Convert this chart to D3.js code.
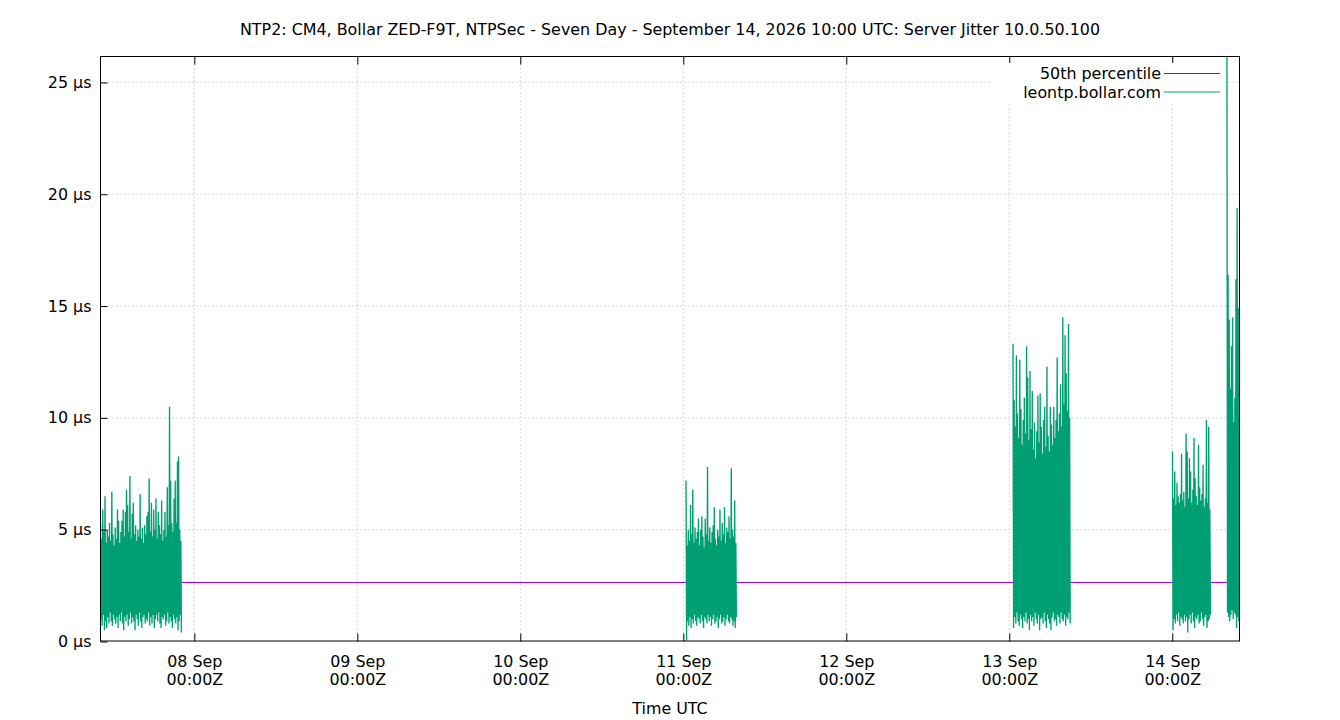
<!DOCTYPE html>
<html>
<head>
<meta charset="utf-8">
<script src="https://cdn.jsdelivr.net/npm/d3@7"></script>
<style>
    body { margin: 0; background: #fff; }
    svg { display: block; font-family: "DejaVu Sans", sans-serif; font-size: 15.9px; }
    .grid line { stroke: #b4b4b4; stroke-width: 1; stroke-dasharray: 1,3; }
</style>
</head>
<body>
<svg id="chart" width="1340" height="720"></svg>
<script>
var titleText = "NTP2: CM4, Bollar ZED-F9T, NTPSec - Seven Day - September 14, 2026 10:00 UTC: Server Jitter 10.0.50.100",
    xLabel = "Time UTC",
    legendLabels = ["50th percentile", "leontp.bollar.com"],
    yTickValues = [0, 5, 10, 15, 20, 25],
    yMax = 26.16,
    timeStart = "2026-09-07T10:11Z",
    timeEnd = "2026-09-14T09:54Z",
    medianValue = 2.64,
    stepMinutes = 10;

// jitter in microseconds, one high / low pair per 10 minute slot
var seg1Start = "2026-09-07T10:11Z",
    seg1Hi = [5.3, 4.6, 5.9, 4.9, 6.5, 4.4, 5.0, 4.7, 5.3, 4.5,
        6.7, 4.8, 4.3, 5.1, 4.6, 5.9, 5.4, 4.4, 4.9, 5.4,
        5.9, 4.7, 5.8, 6.8, 6.1, 4.9, 7.4, 4.6, 5.7, 6.2,
        4.8, 5.2, 4.5, 5.0, 4.7, 6.6, 4.6, 5.1, 4.4, 5.2,
        4.8, 5.6, 5.8, 7.3, 4.9, 6.2, 4.7, 5.9, 5.0, 6.4,
        4.6, 5.8, 5.2, 4.8, 6.3, 4.5, 5.0, 5.8, 4.7, 6.9,
        5.2, 10.5, 7.2, 5.3, 4.9, 6.4, 7.2, 5.3, 8.05, 8.27,
        5.0, 4.5],
    seg1Lo = [1.0, 0.7, 1.2, 0.5, 0.9, 0.6, 1.1, 0.8, 1.3, 0.9,
        0.7, 1.2, 1.0, 0.8, 1.1, 0.6, 1.2, 0.9, 1.3, 0.8,
        0.5, 1.1, 0.9, 1.2, 0.7, 1.0, 1.3, 0.8, 1.1, 0.9,
        0.5, 1.2, 1.0, 0.7, 1.3, 0.9, 0.6, 1.1, 1.2, 0.8,
        1.0, 0.9, 1.3, 0.7, 1.1, 0.8, 1.2, 0.6, 1.0, 1.2,
        0.9, 1.3, 0.8, 0.6, 1.1, 1.0, 1.2, 0.7, 0.9, 1.3,
        0.8, 1.1, 0.9, 0.6, 1.2, 1.0, 0.8, 1.1, 0.5, 0.9,
        1.2, 0.4];

var seg2Start = "2026-09-11T00:24Z",
    seg2Hi = [7.2, 4.3, 5.0, 4.5, 6.1, 4.8, 6.8, 4.4, 5.1, 4.6,
        4.9, 5.5, 4.3, 5.0, 5.6, 4.7, 4.2, 5.5, 4.8, 7.8,
        4.5, 5.1, 4.4, 4.9, 5.2, 6.0, 4.6, 4.3, 5.0, 4.7,
        5.9, 4.5, 5.3, 4.8, 6.0, 4.4, 5.1, 4.9, 5.6, 4.6,
        7.75, 5.0, 4.7, 6.3, 4.4],
    seg2Lo = [0.05, 0.9, 0.7, 1.1, 0.6, 1.0, 0.8, 1.2, 0.9, 0.7,
        1.1, 1.0, 0.8, 1.2, 0.9, 0.6, 1.1, 1.0, 0.8, 1.2,
        0.9, 1.1, 0.7, 1.0, 1.2, 0.8, 0.9, 1.1, 0.6, 1.0,
        1.2, 0.8, 0.9, 1.1, 0.7, 1.0, 1.2, 0.9, 0.8, 1.1,
        1.0, 0.7, 0.9, 0.6, 1.1];

var seg3Start = "2026-09-13T00:33Z",
    seg3Hi = [13.3, 10.8, 9.6, 12.8, 10.2, 9.1, 12.6, 10.4, 8.8, 9.9,
        10.9, 9.3, 13.2, 11.8, 9.0, 12.1, 9.5, 11.2, 8.6, 9.8,
        8.2, 9.4, 11.0, 8.9, 11.1, 9.6, 8.4, 9.9, 10.5, 8.7,
        12.3, 9.2, 8.5, 10.5, 9.7, 8.8, 10.5, 9.1, 9.9, 12.7,
        9.4, 10.2, 11.5, 9.6, 14.5, 10.6, 13.7, 12.0, 10.3, 14.2,
        10.0],
    seg3Lo = [0.6, 1.1, 0.8, 1.3, 0.9, 0.7, 1.2, 1.0, 0.6, 1.1,
        0.9, 1.3, 0.8, 1.0, 0.5, 1.2, 0.9, 1.1, 0.7, 1.3,
        1.0, 0.8, 1.2, 0.5, 1.0, 1.1, 0.8, 1.3, 0.9, 0.6,
        1.2, 1.0, 0.8, 0.5, 1.1, 1.3, 0.9, 1.0, 0.7, 1.2,
        1.1, 0.8, 1.3, 1.0, 0.9, 1.2, 0.7, 1.1, 1.0, 1.3,
        0.8];

var seg4Start = "2026-09-14T00:02Z",
    seg4Hi = [8.5, 6.4, 7.6, 6.1, 7.1, 6.5, 6.2, 6.6, 8.4, 6.3,
        6.7, 6.0, 9.3, 8.5, 6.4, 8.2, 7.6, 6.2, 6.8, 9.1,
        7.3, 6.5, 6.1, 8.8, 6.9, 6.3, 6.6, 7.9, 6.0, 6.4,
        9.9, 6.2, 9.6, 5.9],
    seg4Lo = [0.5, 1.0, 0.8, 1.2, 0.9, 1.3, 0.7, 1.1, 1.0, 0.8,
        1.2, 0.9, 1.1, 0.4, 1.0, 1.2, 0.8, 1.3, 0.9, 0.6,
        1.1, 1.0, 1.2, 0.8, 0.9, 1.3, 1.0, 0.7, 1.1, 1.2,
        0.6, 0.9, 1.0, 1.2];

var seg5Start = "2026-09-14T08:03Z",
    seg5Hi = [26.16, 16.4, 14.4, 11.3, 13.2, 14.5, 9.8, 10.9, 16.2, 19.4, 14.9, 12.5],
    seg5Lo = [1.3, 1.1, 0.9, 1.2, 1.4, 1.0, 1.3, 1.2, 0.6, 1.1, 0.9, 1.0];

(function () {
    "use strict";

    var svg = d3.select("#chart"),
        left = 100.5,
        right = 1239.5,
        top = 56.5,
        bottom = 641.5,
        dayFormat = d3.utcFormat("%d %b"),
        hourFormat = d3.utcFormat("%H:%MZ"),
        segments = [
            { start: seg1Start, hi: seg1Hi, lo: seg1Lo },
            { start: seg2Start, hi: seg2Hi, lo: seg2Lo },
            { start: seg3Start, hi: seg3Hi, lo: seg3Lo },
            { start: seg4Start, hi: seg4Hi, lo: seg4Lo },
            { start: seg5Start, hi: seg5Hi, lo: seg5Lo }
        ],
        x = d3.scaleUtc()
            .domain([new Date(timeStart), new Date(timeEnd)])
            .range([left, right]),
        y = d3.scaleLinear()
            .domain([0, yMax])
            .range([bottom, top]),
        line = d3.line()
            .x(function (d) { return x(d.t); })
            .y(function (d) { return y(d.v); }),
        dayTicks = x.ticks(d3.utcDay.every(1));

    function segmentPoints(s) {
        var t0 = new Date(s.start).getTime(),
            step = stepMinutes * 60000,
            pts = [];

        s.hi.forEach(function (h, i) {
            pts.push({ t: new Date(t0 + i * step), v: h });
            pts.push({ t: new Date(t0 + (i + 0.5) * step), v: s.lo[i] });
        });
        return pts;
    }

    svg.append("rect").attr("width", 1340).attr("height", 720).attr("fill", "#fff");

    svg.append("defs").append("clipPath").attr("id", "plot-clip")
        .append("rect")
        .attr("x", left).attr("y", top)
        .attr("width", right - left).attr("height", bottom - top);

    // grid
    var grid = svg.append("g").attr("class", "grid");
    grid.selectAll(".gx").data(dayTicks).enter().append("line")
        .attr("x1", x).attr("x2", x)
        .attr("y1", top).attr("y2", bottom);
    grid.selectAll(".gy").data(yTickValues.filter(function (v) { return v > 0; })).enter().append("line")
        .attr("x1", left).attr("x2", right)
        .attr("y1", y).attr("y2", y);

    // data
    var plot = svg.append("g").attr("clip-path", "url(#plot-clip)");

    plot.append("path")
        .datum([{ t: x.domain()[0], v: medianValue }, { t: x.domain()[1], v: medianValue }])
        .attr("d", line)
        .attr("fill", "none")
        .attr("stroke", "#9400d3")
        .attr("stroke-width", 1);

    plot.selectAll(".jitter").data(segments).enter().append("path")
        .attr("class", "jitter")
        .attr("d", function (s) { return line(segmentPoints(s)); })
        .attr("fill", "none")
        .attr("stroke", "#009e73")
        .attr("stroke-width", 1.35)
        .attr("stroke-linejoin", "miter")
        .attr("stroke-miterlimit", 1.5);

    // axes
    var gx = svg.append("g")
        .attr("transform", "translate(0," + bottom + ")")
        .call(d3.axisBottom(x).tickValues(dayTicks).tickSize(-8).tickFormat(""));
    gx.attr("font-size", null).attr("font-family", null);
    gx.select(".domain").remove();
    gx.selectAll(".tick text")
        .attr("y", 0)
        .attr("dy", null)
        .attr("fill", "#000")
        .each(function (d) {
            var t = d3.select(this);
            t.append("tspan").attr("x", 0).attr("y", 25.3).text(dayFormat(d));
            t.append("tspan").attr("x", 0).attr("y", 43.6).text(hourFormat(d));
        });

    var gt = svg.append("g")
        .attr("transform", "translate(0," + top + ")")
        .call(d3.axisTop(x).tickValues(dayTicks).tickSize(-8).tickFormat(""));
    gt.select(".domain").remove();

    var gy = svg.append("g")
        .attr("transform", "translate(" + left + ",0)")
        .call(d3.axisLeft(y).tickValues(yTickValues).tickSize(-7).tickPadding(9)
            .tickFormat(function (d) { return d + " \u00b5s"; }));
    gy.attr("font-size", null).attr("font-family", null);
    gy.select(".domain").remove();
    gy.selectAll(".tick text").attr("fill", "#000");

    svg.append("rect")
        .attr("x", left).attr("y", top)
        .attr("width", right - left).attr("height", bottom - top - 0.5)
        .attr("fill", "none")
        .attr("stroke", "#000");

    // legend
    var legend = svg.append("g");
    legend.append("rect")
        .attr("x", 990).attr("y", 63)
        .attr("width", 235).attr("height", 39)
        .attr("fill", "#fff");
    legend.selectAll("text").data(legendLabels).enter().append("text")
        .attr("x", 1161)
        .attr("y", function (d, i) { return 79 + i * 18.5; })
        .attr("text-anchor", "end")
        .text(function (d) { return d; });
    legend.selectAll("line").data(["#9400d3", "#009e73"]).enter().append("line")
        .attr("x1", 1164).attr("x2", 1220)
        .attr("y1", function (d, i) { return 73.5 + i * 18.5; })
        .attr("y2", function (d, i) { return 73.5 + i * 18.5; })
        .attr("stroke", function (d) { return d; });

    // titles
    svg.append("text")
        .attr("x", 670).attr("y", 35)
        .attr("text-anchor", "middle")
        .text(titleText);

    svg.append("text")
        .attr("x", 670).attr("y", 714)
        .attr("text-anchor", "middle")
        .text(xLabel);
}());
</script>
</body>
</html>
